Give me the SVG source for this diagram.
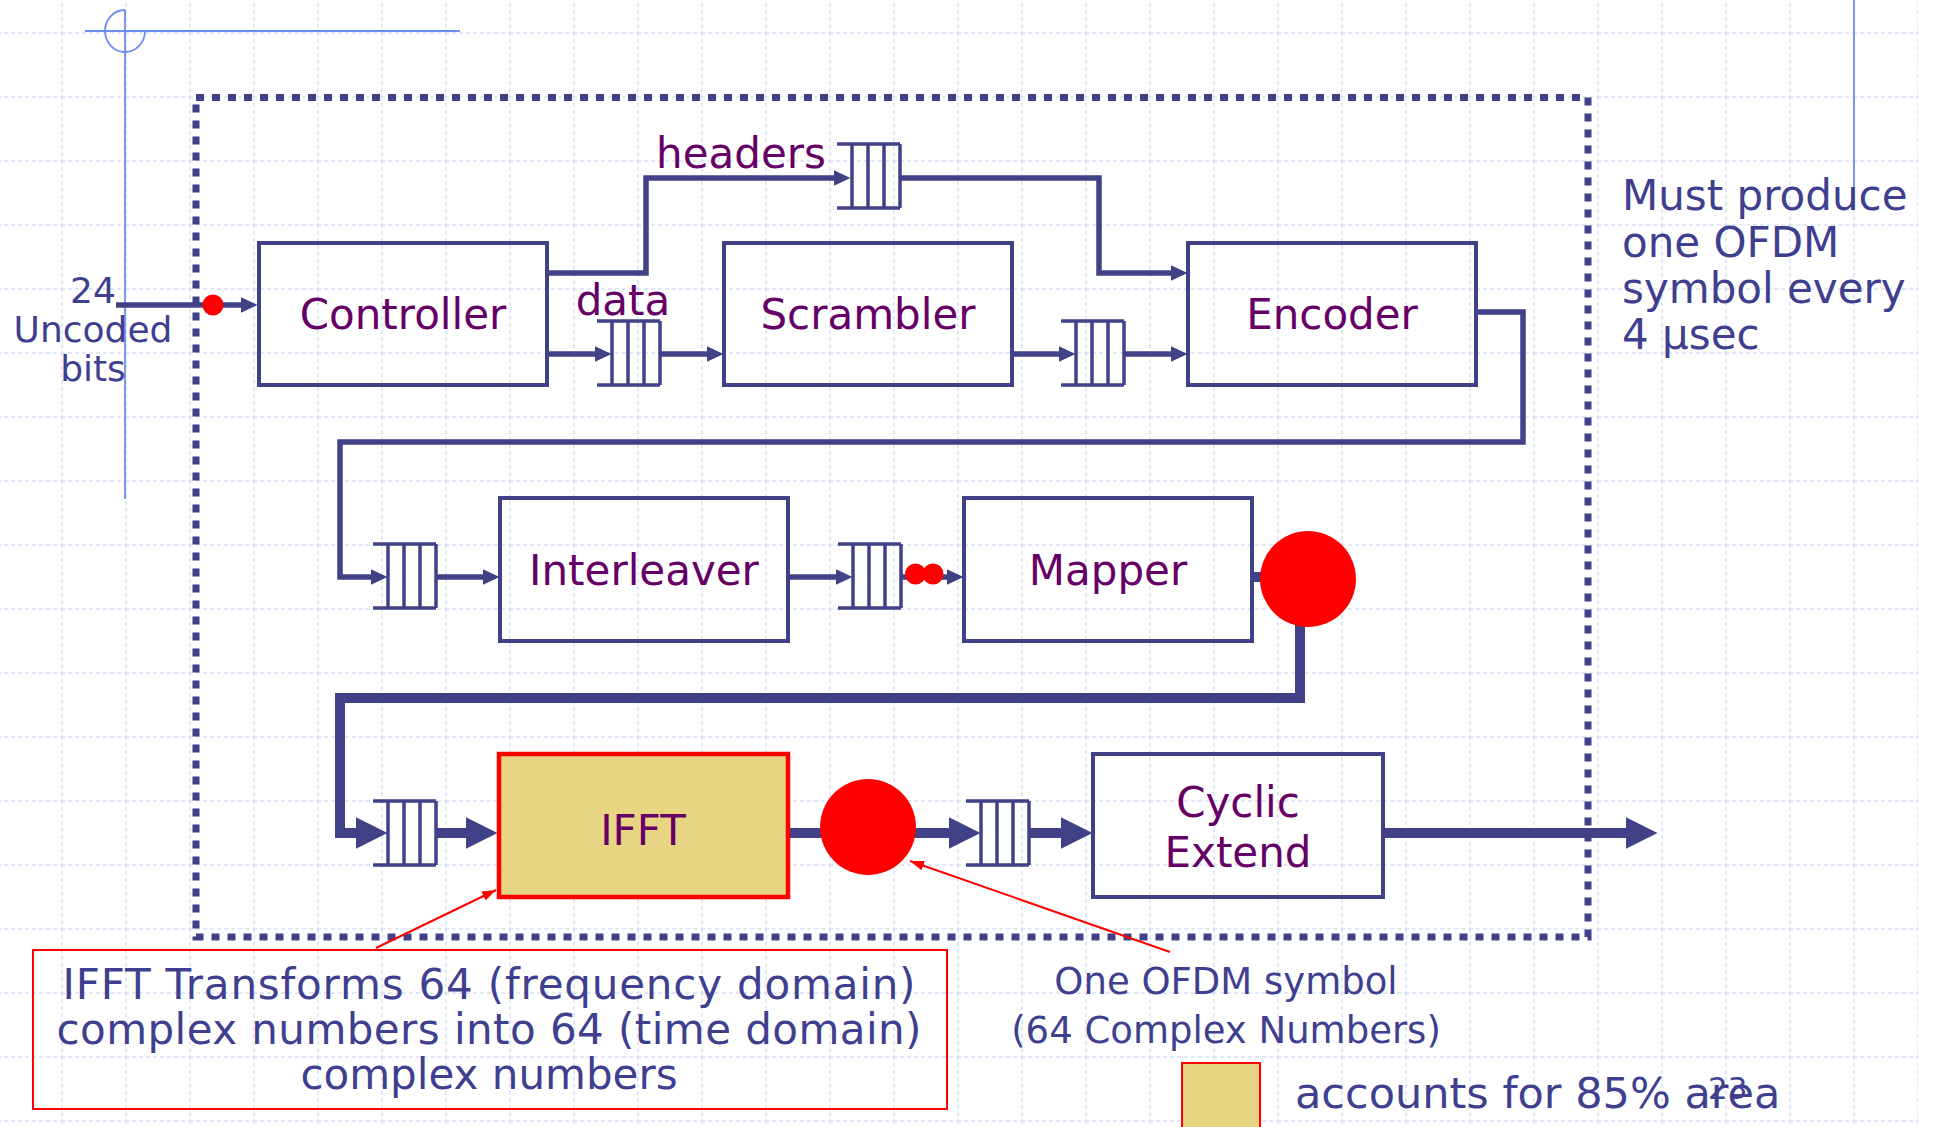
<svg xmlns="http://www.w3.org/2000/svg" width="1933" height="1127" viewBox="0 0 1933 1127">
  <defs>
    <style>
      .box { fill: none; stroke: #414187; stroke-width: 4; }
      .lbl { font-family: "DejaVu Sans", Verdana, sans-serif; font-size: 42px; fill: #660066; text-anchor: middle; }
      .note { font-family: "DejaVu Sans", Verdana, sans-serif; fill: #3f3f8f; }
      .wire { fill: none; stroke: #414187; stroke-width: 5.5; stroke-linejoin: miter; }
      .bus { fill: none; stroke: #414187; stroke-width: 10; stroke-linejoin: miter; }
      .dot { fill: #ff0000; }
      .callout { fill: none; stroke: #ff0000; stroke-width: 2; }
      .deco { fill: none; stroke: #6b8ef0; stroke-width: 1.8; }
      .fifo path { fill: none; stroke: #414187; stroke-width: 3.5; }
    </style>
    <pattern id="grid" patternUnits="userSpaceOnUse" x="61" y="32" width="64" height="64">
      <path d="M0,1 H64 M1,0 V64" fill="none" stroke="#d9e1f6" stroke-width="1.5" stroke-dasharray="4 3"/>
    </pattern>
    <marker id="ah-s" markerUnits="userSpaceOnUse" markerWidth="18" markerHeight="18" viewBox="0 -9 18 18" refX="0.5" refY="0" orient="auto">
      <path d="M0,-8 L17,0 L0,8 Z" fill="#414187"/>
    </marker>
    <marker id="ah-l" markerUnits="userSpaceOnUse" markerWidth="34" markerHeight="34" viewBox="0 -17 34 34" refX="0.5" refY="0" orient="auto">
      <path d="M0,-16 L32,0 L0,16 Z" fill="#414187"/>
    </marker>
    <marker id="ah-red" markerUnits="userSpaceOnUse" markerWidth="16" markerHeight="12" viewBox="0 -6 16 12" refX="14" refY="0" orient="auto">
      <path d="M0,-5 L14,0 L0,5 Z" fill="#ff0000"/>
    </marker>
    <!-- FIFO queue: two rails with four cell walls -->
    <g id="fifo" class="fifo">
      <path d="M0,0 H63 M0,64 H63 M15,0 V64 M31,0 V64 M47,0 V64 M63,0 V64"/>
    </g>
  </defs>

  <!-- background grid -->
  <rect x="0" y="0" width="1918" height="1127" fill="#ffffff"/>
  <rect x="0" y="0" width="1918" height="1127" fill="url(#grid)"/>

  <!-- slide decoration -->
  <g id="decoration">
    <path class="deco" d="M85,31 H460 M125,10 V499 M1854,0 V190"/>
    <path class="deco" d="M125,10 A20,21 0 1 0 145,31"/>
  </g>

  <!-- transmitter boundary -->
  <rect id="boundary" x="196" y="97.5" width="1392" height="839.5" fill="none" stroke="#414187" stroke-width="7" stroke-dasharray="8 8"/>

  <!-- connectors -->
  <g id="connectors">
    <path class="wire" d="M116,305 H241" marker-end="url(#ah-s)"/>
    <path class="wire" d="M547,273 H646 V178 H834" marker-end="url(#ah-s)"/>
    <path class="wire" d="M900,178 H1099 V273 H1171" marker-end="url(#ah-s)"/>
    <path class="wire" d="M547,354 H595" marker-end="url(#ah-s)"/>
    <path class="wire" d="M660,354 H707" marker-end="url(#ah-s)"/>
    <path class="wire" d="M1012,354 H1059" marker-end="url(#ah-s)"/>
    <path class="wire" d="M1124,354 H1171" marker-end="url(#ah-s)"/>
    <path class="wire" d="M1476,312 H1523 V442 H340 V577 H371" marker-end="url(#ah-s)"/>
    <path class="wire" d="M436,577 H483" marker-end="url(#ah-s)"/>
    <path class="wire" d="M788,577 H836" marker-end="url(#ah-s)"/>
    <path class="wire" d="M901,577 H947" marker-end="url(#ah-s)"/>
    <path class="bus" d="M1252,577 H1300"/>
    <path class="bus" d="M1300,600 V698 H340 V833 H356" marker-end="url(#ah-l)"/>
    <path class="bus" d="M436,833 H466" marker-end="url(#ah-l)"/>
    <path class="bus" d="M788,833 H949" marker-end="url(#ah-l)"/>
    <path class="bus" d="M1029,833 H1061" marker-end="url(#ah-l)"/>
    <path class="bus" d="M1383,833 H1626" marker-end="url(#ah-l)"/>
    <path class="callout" d="M376,948 L496,890" marker-end="url(#ah-red)"/>
    <path class="callout" d="M1170,952 L910,861" marker-end="url(#ah-red)"/>
  </g>

  <!-- red data markers -->
  <g id="tokens">
    <circle class="dot" cx="213" cy="305" r="10.5"/>
    <circle class="dot" cx="915.5" cy="574" r="10.5"/>
    <circle class="dot" cx="933" cy="574" r="10.5"/>
    <circle class="dot" cx="1308" cy="579" r="48"/>
    <circle class="dot" cx="868" cy="827" r="48"/>
  </g>

  <!-- queues -->
  <g id="queues">
    <use href="#fifo" x="837" y="144"/>
    <use href="#fifo" x="597" y="321"/>
    <use href="#fifo" x="1061" y="321"/>
    <use href="#fifo" x="373" y="544"/>
    <use href="#fifo" x="838" y="544"/>
    <use href="#fifo" x="373" y="801"/>
    <use href="#fifo" x="966" y="801"/>
  </g>

  <!-- processing blocks -->
  <g id="controller">
    <rect class="box" x="259" y="243" width="288" height="142"/>
    <text class="lbl" x="403" y="329">Controller</text>
  </g>
  <g id="scrambler">
    <rect class="box" x="724" y="243" width="288" height="142"/>
    <text class="lbl" x="868" y="329">Scrambler</text>
  </g>
  <g id="encoder">
    <rect class="box" x="1188" y="243" width="288" height="142"/>
    <text class="lbl" x="1332" y="329">Encoder</text>
  </g>
  <g id="interleaver">
    <rect class="box" x="500" y="498" width="288" height="143"/>
    <text class="lbl" x="644" y="585">Interleaver</text>
  </g>
  <g id="mapper">
    <rect class="box" x="964" y="498" width="288" height="143"/>
    <text class="lbl" x="1108" y="585">Mapper</text>
  </g>
  <g id="ifft">
    <rect x="499" y="754" width="289" height="143" fill="#e8d584" stroke="#ff0000" stroke-width="4.5"/>
    <text class="lbl" x="643" y="845">IFFT</text>
  </g>
  <g id="cyclic-extend">
    <rect class="box" x="1093" y="754" width="290" height="143"/>
    <text class="lbl" x="1238" y="817">Cyclic</text>
    <text class="lbl" x="1238" y="867">Extend</text>
  </g>

  <!-- stream labels -->
  <g id="stream-labels">
    <text class="lbl" x="741" y="168">headers</text>
    <text class="lbl" x="623" y="315">data</text>
  </g>

  <!-- input annotation -->
  <g id="input-note" class="note" font-size="36" text-anchor="middle">
    <text x="93" y="303">24</text>
    <text x="93" y="342">Uncoded</text>
    <text x="93" y="381">bits</text>
  </g>

  <!-- timing requirement -->
  <g id="timing-note" class="note" font-size="42">
    <text x="1622" y="210">Must produce</text>
    <text x="1622" y="257">one OFDM</text>
    <text x="1622" y="303">symbol every</text>
    <text x="1622" y="349">4 µsec</text>
  </g>

  <!-- IFFT explanation -->
  <g id="ifft-note">
    <rect x="33" y="950" width="914" height="159" fill="none" stroke="#ff0000" stroke-width="2"/>
    <g class="note" font-size="42" text-anchor="middle">
      <text x="489" y="999" textLength="853" lengthAdjust="spacing">IFFT Transforms 64 (frequency domain)</text>
      <text x="489" y="1044" textLength="865" lengthAdjust="spacing">complex numbers into 64 (time domain)</text>
      <text x="489" y="1089">complex numbers</text>
    </g>
  </g>

  <!-- symbol annotation -->
  <g id="symbol-note" class="note" font-size="37" text-anchor="middle">
    <text x="1226" y="994">One OFDM symbol</text>
    <text x="1226" y="1043">(64 Complex Numbers)</text>
  </g>

  <!-- legend -->
  <g id="legend">
    <rect x="1182" y="1063" width="78" height="70" fill="#e8d584" stroke="#ff0000" stroke-width="2"/>
    <text class="note" x="1295" y="1108" font-size="43">accounts for 85% area</text>
  </g>

  <!-- page number -->
  <text id="page-number" class="note" x="1708" y="1099" font-size="31">23</text>
</svg>
